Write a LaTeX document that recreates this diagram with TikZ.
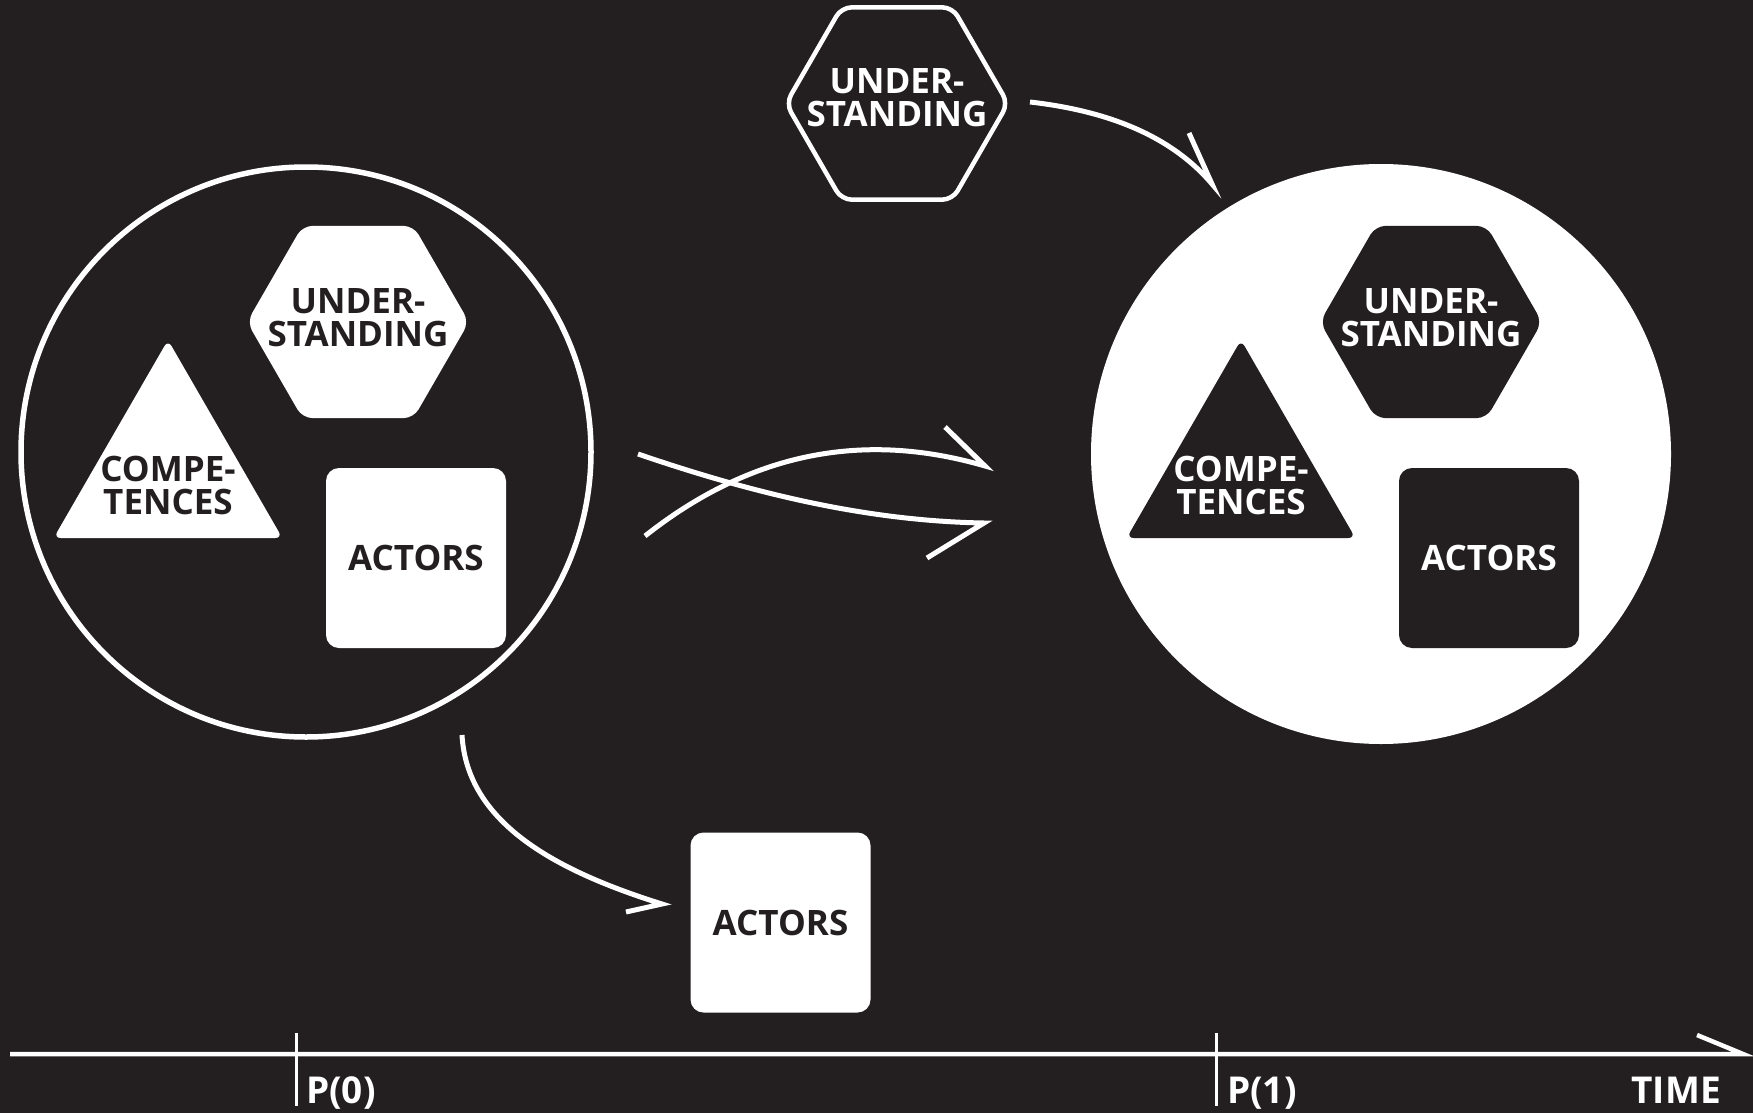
\documentclass[tikz,border=0pt]{standalone}
\usepackage{fontspec}
\setmainfont{Open Sans}
\usetikzlibrary{shapes.geometric}
\definecolor{ink}{HTML}{231F20}
\begin{document}
\begin{tikzpicture}[x=1pt,y=-1pt,
  txt/.style={font=\fontsize{35}{33}\selectfont\bfseries, align=center},
  hexa/.style={regular polygon, regular polygon sides=6, minimum size=222pt,
    inner sep=0pt, rounded corners=10pt},
  tri/.style={regular polygon, regular polygon sides=3, minimum size=264pt,
    inner sep=0pt, rounded corners=7pt},
  sqbox/.style={rectangle, minimum size=180pt, inner sep=0pt,
    rounded corners=13pt, txt},
  conn/.style={draw=white, line width=5pt, line join=miter},
  tick/.style={draw=white, line width=3pt},
  stamp/.style={txt, font=\fontsize{37}{37}\selectfont\bfseries, text=white, inner sep=0pt}
]
\useasboundingbox (0,0) rectangle (1753,1113);
\fill[ink] (0,0) rectangle (1753,1113);

% state at P(0): outlined circle with white elements
\node[circle, draw=white, line width=5.5pt, minimum size=570pt, inner sep=0pt] (c0) at (306,452) {};
\node[hexa, fill=white, label={[txt, text=ink, yshift=4pt]center:UNDER-\\STANDING}] (h0) at (358,322) {};
\node[tri, fill=white, label={[txt, text=ink, yshift=-13pt]center:COMPE-\\TENCES}] (t0) at (168,472) {};
\node[sqbox, fill=white, text=ink] (s0) at (416,558) {ACTORS};

% state at P(1): filled circle with dark elements
\node[circle, fill=white, minimum size=580pt, inner sep=0pt] (c1) at (1381,454) {};
\node[hexa, fill=ink, label={[txt, text=white, yshift=4pt]center:UNDER-\\STANDING}] (h1) at (1431,322) {};
\node[tri, fill=ink, label={[txt, text=white, yshift=-13pt]center:COMPE-\\TENCES}] (t1) at (1241,472) {};
\node[sqbox, fill=ink, text=white] (s1) at (1489,558) {ACTORS};

% incoming understanding and outgoing actors
\node[hexa, draw=white, line width=4.5pt, label={[txt, text=white, yshift=6pt]center:UNDER-\\STANDING}] (ht) at (897,103.5) {};
\node[sqbox, fill=white, text=ink] (s2) at (780.5,922.5) {ACTORS};

% connector end points
\coordinate (a1s) at (1030,102);
\coordinate (a1t) at (1212,184);
\coordinate (a1b) at (1189,133);
\coordinate (m1s) at (638,454);
\coordinate (m1t) at (984,523);
\coordinate (m1b) at (927,558);
\coordinate (m2s) at (645,536);
\coordinate (m2t) at (985,466);
\coordinate (m2b) at (945,427);
\coordinate (b1s) at (462,735);
\coordinate (b1t) at (662,904);
\coordinate (b1b) at (626,912);

\draw[conn] (a1s) .. controls (1100,110) and (1168,132) .. (a1t) -- (a1b);
\draw[conn] (m1s) .. controls (752,493) and (866,521) .. (m1t) -- (m1b);
\draw[conn] (m2s) .. controls (760,445) and (875,434) .. (m2t) -- (m2b);
\draw[conn] (b1s) .. controls (467,825) and (560,872) .. (b1t) -- (b1b);

% time axis
\coordinate (tl0) at (10,1054);
\coordinate (tl1) at (1743,1054);
\coordinate (tlb) at (1697,1035);
\draw[draw=white, line width=4.5pt, line join=miter] (tl0) -- (tl1) -- (tlb);
\coordinate (p0a) at (296,1033);
\coordinate (p0b) at (296,1106);
\coordinate (p1a) at (1216,1033);
\coordinate (p1b) at (1216,1106);
\draw[tick] (p0a) -- (p0b);
\draw[tick] (p1a) -- (p1b);
\node[stamp, anchor=base west] (lp0) at (306,1103) {P(0)};
\node[stamp, anchor=base west] (lp1) at (1227,1103) {P(1)};
\node[stamp, anchor=base east] (ltime) at (1721,1103) {TIME};
\end{tikzpicture}
\end{document}
